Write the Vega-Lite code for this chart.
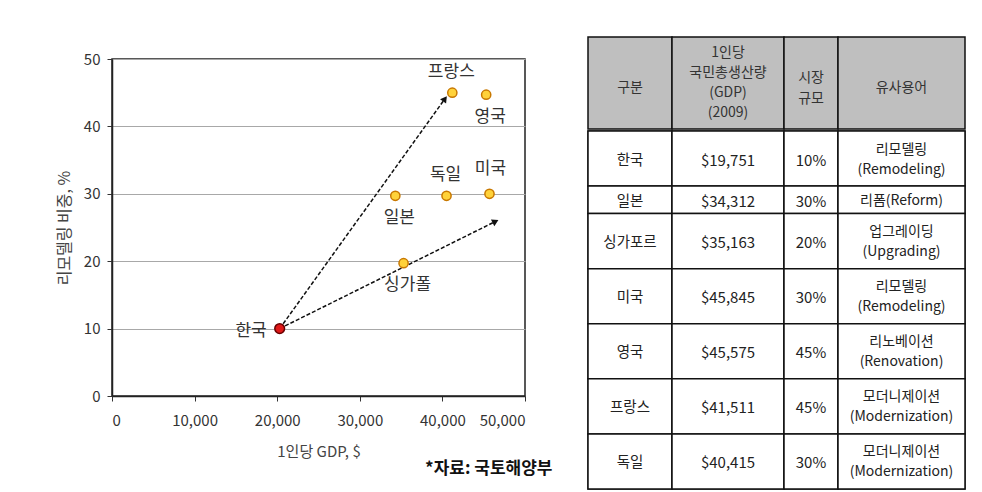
{
  "$schema": "https://vega.github.io/schema/vega-lite/v6.json",
  "padding": {"left": 55, "top": 36, "right": 5, "bottom": 0},
  "background": "white",
  "config": {
    "font": "Noto Sans CJK KR",
    "view": {"stroke": "#222", "strokeWidth": 1.5},
    "concat": {"spacing": 0}
  },
  "datasets": {
    "pts": [
      {"country": "한국", "label": "한국", "gdp": 20300, "share": 10, "kind": "kr"},
      {"country": "일본", "label": "일본", "gdp": 34300, "share": 29.7, "kind": "other"},
      {"country": "싱가포르", "label": "싱가폴", "gdp": 35300, "share": 19.7, "kind": "other"},
      {"country": "독일", "label": "독일", "gdp": 40500, "share": 29.7, "kind": "other"},
      {"country": "프랑스", "label": "프랑스", "gdp": 41200, "share": 45, "kind": "other"},
      {"country": "영국", "label": "영국", "gdp": 45300, "share": 44.7, "kind": "other"},
      {"country": "미국", "label": "미국", "gdp": 45700, "share": 30, "kind": "other"}
    ],
    "arrows": [
      {"arrow": "a", "gdp0": 20300, "share0": 10, "gdp1": 40310, "share1": 44.1},
      {"arrow": "b", "gdp0": 20300, "share0": 10, "gdp1": 46430, "share1": 25.9}
    ],
    "header": [
      {"col": 1, "h": "구분"},
      {"col": 2, "h": "1인당\n국민총생산량\n(GDP)\n(2009)"},
      {"col": 3, "h": "시장\n규모"},
      {"col": 4, "h": "유사용어"}
    ],
    "table": [
      {"ord": 1, "country": "한국", "gdp": "$19,751", "share": "10%", "term": "리모델링\n(Remodeling)", "lines": 2},
      {"ord": 2, "country": "일본", "gdp": "$34,312", "share": "30%", "term": "리폼(Reform)", "lines": 1},
      {"ord": 3, "country": "싱가포르", "gdp": "$35,163", "share": "20%", "term": "업그레이딩\n(Upgrading)", "lines": 2},
      {"ord": 4, "country": "미국", "gdp": "$45,845", "share": "30%", "term": "리모델링\n(Remodeling)", "lines": 2},
      {"ord": 5, "country": "영국", "gdp": "$45,575", "share": "45%", "term": "리노베이션\n(Renovation)", "lines": 2},
      {"ord": 6, "country": "프랑스", "gdp": "$41,511", "share": "45%", "term": "모더니제이션\n(Modernization)", "lines": 2},
      {"ord": 7, "country": "독일", "gdp": "$40,415", "share": "30%", "term": "모더니제이션\n(Modernization)", "lines": 2}
    ]
  },
  "spacing": 32,
  "hconcat": [
    {
      "vconcat": [
        {"width": 413, "height": 22, "view": {"stroke": null}, "data": {"values": []}, "mark": "point"},
        {
          "width": 413,
          "height": 337,
          "title": {"text": "*자료: 국토해양부", "orient": "bottom", "anchor": "end", "fontSize": 17, "fontWeight": "bold", "color": "#111", "dx": 27, "offset": 2},
          "layer": [
            {
              "data": {"name": "arrows"},
              "mark": {"type": "rule", "color": "#111", "strokeWidth": 1.5, "strokeDash": [4, 2]},
              "encoding": {
                "x": {"field": "gdp0", "type": "quantitative", "scale": {"domain": [0, 50000], "nice": false},
                  "axis": {"title": "1인당 GDP, $", "values": [0, 10000, 20000, 30000, 40000, 50000], "format": ",.0f", "grid": false,
                    "labelFontSize": 15, "labelColor": "#333", "tickColor": "#333", "tickSize": 5, "labelPadding": 12,
                    "domainColor": "#222", "domainWidth": 1.5, "titleFontSize": 15, "titleFontWeight": "normal", "titleColor": "#444", "titlePadding": 16}},
                "y": {"field": "share0", "type": "quantitative", "scale": {"domain": [0, 50], "nice": false},
                  "axis": {"title": "리모델링 비중, %", "values": [0, 10, 20, 30, 40, 50], "grid": true, "gridColor": "#a8a8a8", "gridWidth": 1,
                    "labelFontSize": 15, "labelColor": "#333", "tickColor": "#333", "tickSize": 5, "labelPadding": 7,
                    "domainColor": "#222", "domainWidth": 1.5, "titleFontSize": 16, "titleFontWeight": "normal", "titleColor": "#444", "titlePadding": 11}},
                "x2": {"field": "gdp1"},
                "y2": {"field": "share1"}
              }
            },
            {
              "data": {"name": "arrows"},
              "transform": [{"filter": "datum.arrow == 'a'"}],
              "mark": {"type": "point", "shape": "triangle-up", "filled": true, "color": "#111", "size": 55, "angle": 36, "opacity": 1},
              "encoding": {
                "x": {"field": "gdp1", "type": "quantitative"},
                "y": {"field": "share1", "type": "quantitative"}
              }
            },
            {
              "data": {"name": "arrows"},
              "transform": [{"filter": "datum.arrow == 'b'"}],
              "mark": {"type": "point", "shape": "triangle-up", "filled": true, "color": "#111", "size": 55, "angle": 63, "opacity": 1},
              "encoding": {
                "x": {"field": "gdp1", "type": "quantitative"},
                "y": {"field": "share1", "type": "quantitative"}
              }
            },
            {
              "data": {"name": "pts"},
              "transform": [{"filter": "datum.kind == 'other'"}],
              "mark": {"type": "point", "filled": true, "fill": "#FFD23A", "stroke": "#C87800", "strokeWidth": 1.5, "size": 85, "opacity": 1},
              "encoding": {
                "x": {"field": "gdp", "type": "quantitative"},
                "y": {"field": "share", "type": "quantitative"}
              }
            },
            {
              "data": {"name": "pts"},
              "transform": [{"filter": "datum.kind == 'kr'"}],
              "mark": {"type": "point", "filled": true, "fill": "#E01818", "stroke": "#6A0000", "strokeWidth": 1.5, "size": 95, "opacity": 1},
              "encoding": {
                "x": {"field": "gdp", "type": "quantitative"},
                "y": {"field": "share", "type": "quantitative"}
              }
            },
            {
              "data": {"name": "pts"},
              "transform": [{"filter": "datum.label == '한국'"}],
              "mark": {"type": "text", "fontSize": 17, "color": "#333", "align": "right", "baseline": "middle", "dx": -13, "dy": 2},
              "encoding": {
                "x": {"field": "gdp", "type": "quantitative"},
                "y": {"field": "share", "type": "quantitative"},
                "text": {"field": "label"}
              }
            },
            {
              "data": {"name": "pts"},
              "transform": [{"filter": "datum.label == '일본' || datum.label == '싱가폴' || datum.label == '영국'"}],
              "mark": {"type": "text", "fontSize": 17, "color": "#333", "align": "center", "baseline": "middle", "dx": 4, "dy": 22},
              "encoding": {
                "x": {"field": "gdp", "type": "quantitative"},
                "y": {"field": "share", "type": "quantitative"},
                "text": {"field": "label"}
              }
            },
            {
              "data": {"name": "pts"},
              "transform": [{"filter": "datum.label == '독일' || datum.label == '프랑스'"}],
              "mark": {"type": "text", "fontSize": 17, "color": "#333", "align": "center", "baseline": "middle", "dx": -1, "dy": -21},
              "encoding": {
                "x": {"field": "gdp", "type": "quantitative"},
                "y": {"field": "share", "type": "quantitative"},
                "text": {"field": "label"}
              }
            },
            {
              "data": {"name": "pts"},
              "transform": [{"filter": "datum.label == '미국'"}],
              "mark": {"type": "text", "fontSize": 17, "color": "#333", "align": "center", "baseline": "middle", "dx": 1, "dy": -25},
              "encoding": {
                "x": {"field": "gdp", "type": "quantitative"},
                "y": {"field": "share", "type": "quantitative"},
                "text": {"field": "label"}
              }
            }
          ]
        }
      ],
      "spacing": 0,
      "bounds": "flush"
    },
    {
      "spacing": -1,
      "vconcat": [
        {
          "bounds": "flush",
          "spacing": 0,
          "hconcat": [
            {"width": 84, "height": 92, "view": {"fill": "#bfbfbf", "stroke": "#111", "strokeWidth": 1.5}, "data": {"name": "header"}, "transform": [{"filter": "datum.col == 1"}],
              "mark": {"type": "text", "fontSize": 14, "color": "#333", "lineBreak": "\n", "lineHeight": 20, "dy": 5}, "encoding": {"text": {"field": "h"}}},
            {"width": 112, "height": 92, "view": {"fill": "#bfbfbf", "stroke": "#111", "strokeWidth": 1.5}, "data": {"name": "header"}, "transform": [{"filter": "datum.col == 2"}],
              "mark": {"type": "text", "fontSize": 14, "color": "#333", "lineBreak": "\n", "lineHeight": 20, "dy": -30}, "encoding": {"text": {"field": "h"}}},
            {"width": 54, "height": 92, "view": {"fill": "#bfbfbf", "stroke": "#111", "strokeWidth": 1.5}, "data": {"name": "header"}, "transform": [{"filter": "datum.col == 3"}],
              "mark": {"type": "text", "fontSize": 14, "color": "#333", "lineBreak": "\n", "lineHeight": 21, "dy": -5}, "encoding": {"text": {"field": "h"}}},
            {"width": 127, "height": 92, "view": {"fill": "#bfbfbf", "stroke": "#111", "strokeWidth": 1.5}, "data": {"name": "header"}, "transform": [{"filter": "datum.col == 4"}],
              "mark": {"type": "text", "fontSize": 14, "color": "#333", "lineBreak": "\n", "lineHeight": 20, "dy": 5}, "encoding": {"text": {"field": "h"}}}
          ]
        },
        {
          "bounds": "flush",
          "spacing": 0,
          "hconcat": [
            {
              "width": 84, "height": 358, "data": {"name": "table"},
              "transform": [{"stack": "lines", "groupby": [], "sort": [{"field": "ord", "order": "ascending"}], "as": ["y0", "y1"]}],
              "layer": [
                {"mark": {"type": "rect", "fill": "white", "stroke": "#111", "strokeWidth": 1.5},
                  "encoding": {"y": {"field": "y0", "type": "quantitative", "scale": {"domain": [0, 13], "reverse": true, "nice": false, "zero": false}, "axis": null}, "y2": {"field": "y1"}}},
                {"transform": [{"fold": ["y0", "y1"], "as": ["edge", "pos"]}, {"aggregate": [{"op": "mean", "field": "pos", "as": "mid"}], "groupby": ["ord", "country"]}],
                  "mark": {"type": "text", "fontSize": 14.5, "color": "#222", "dy": 2},
                  "encoding": {"y": {"field": "mid", "type": "quantitative"}, "text": {"field": "country"}}}
              ]
            },
            {
              "width": 112, "height": 358, "data": {"name": "table"},
              "transform": [{"stack": "lines", "groupby": [], "sort": [{"field": "ord", "order": "ascending"}], "as": ["y0", "y1"]}],
              "layer": [
                {"mark": {"type": "rect", "fill": "white", "stroke": "#111", "strokeWidth": 1.5},
                  "encoding": {"y": {"field": "y0", "type": "quantitative", "scale": {"domain": [0, 13], "reverse": true, "nice": false, "zero": false}, "axis": null}, "y2": {"field": "y1"}}},
                {"transform": [{"fold": ["y0", "y1"], "as": ["edge", "pos"]}, {"aggregate": [{"op": "mean", "field": "pos", "as": "mid"}], "groupby": ["ord", "gdp"]}],
                  "mark": {"type": "text", "fontSize": 15, "color": "#222", "dy": 2},
                  "encoding": {"y": {"field": "mid", "type": "quantitative"}, "text": {"field": "gdp"}}}
              ]
            },
            {
              "width": 54, "height": 358, "data": {"name": "table"},
              "transform": [{"stack": "lines", "groupby": [], "sort": [{"field": "ord", "order": "ascending"}], "as": ["y0", "y1"]}],
              "layer": [
                {"mark": {"type": "rect", "fill": "white", "stroke": "#111", "strokeWidth": 1.5},
                  "encoding": {"y": {"field": "y0", "type": "quantitative", "scale": {"domain": [0, 13], "reverse": true, "nice": false, "zero": false}, "axis": null}, "y2": {"field": "y1"}}},
                {"transform": [{"fold": ["y0", "y1"], "as": ["edge", "pos"]}, {"aggregate": [{"op": "mean", "field": "pos", "as": "mid"}], "groupby": ["ord", "share"]}],
                  "mark": {"type": "text", "fontSize": 15, "color": "#222", "dy": 2},
                  "encoding": {"y": {"field": "mid", "type": "quantitative"}, "text": {"field": "share"}}}
              ]
            },
            {
              "width": 127, "height": 358, "data": {"name": "table"},
              "transform": [{"stack": "lines", "groupby": [], "sort": [{"field": "ord", "order": "ascending"}], "as": ["y0", "y1"]}],
              "layer": [
                {"mark": {"type": "rect", "fill": "white", "stroke": "#111", "strokeWidth": 1.5},
                  "encoding": {"y": {"field": "y0", "type": "quantitative", "scale": {"domain": [0, 13], "reverse": true, "nice": false, "zero": false}, "axis": null}, "y2": {"field": "y1"}}},
                {"transform": [{"filter": "datum.lines == 2"}, {"fold": ["y0", "y1"], "as": ["edge", "pos"]}, {"aggregate": [{"op": "mean", "field": "pos", "as": "mid"}], "groupby": ["ord", "term"]}],
                  "mark": {"type": "text", "fontSize": 14, "color": "#222", "lineBreak": "\n", "lineHeight": 20, "dy": -9},
                  "encoding": {"y": {"field": "mid", "type": "quantitative"}, "text": {"field": "term"}}},
                {"transform": [{"filter": "datum.lines == 1"}, {"fold": ["y0", "y1"], "as": ["edge", "pos"]}, {"aggregate": [{"op": "mean", "field": "pos", "as": "mid"}], "groupby": ["ord", "term"]}],
                  "mark": {"type": "text", "fontSize": 14, "color": "#222", "dy": 1},
                  "encoding": {"y": {"field": "mid", "type": "quantitative"}, "text": {"field": "term"}}}
              ]
            }
          ]
        }
      ]
    }
  ]
}
